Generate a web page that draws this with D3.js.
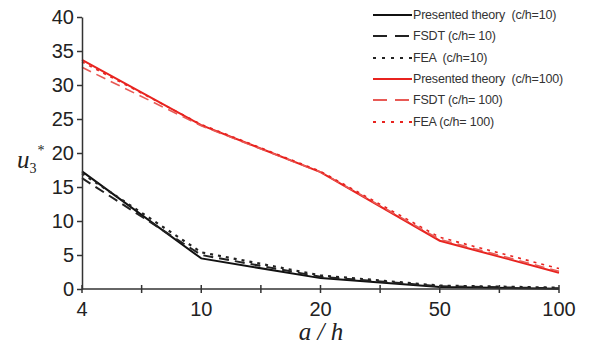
<!DOCTYPE html>
<html><head><meta charset="utf-8">
<script src="https://cdn.jsdelivr.net/npm/d3@7"></script>
<style>body{margin:0;background:#fff}svg{display:block}</style>
</head><body>
<script>
const categories = ["4","10","20","50","100"];
const yTicks = [0,5,10,15,20,25,30,35,40];
const presented10 = [17.3, 4.5, 1.6, 0.3, 0.05];
const fsdt10      = [16.3, 5.0, 1.8, 0.4, 0.1];
const fea10       = [17.0, 5.4, 2.0, 0.5, 0.2];
const presented100 = [33.7, 24.1, 17.2, 7.1, 2.4];
const fsdt100      = [32.6, 24.0, 17.2, 7.3, 2.6];
const fea100       = [33.4, 24.2, 17.3, 7.6, 3.0];
const seriesNames = ["Presented theory  (c/h=10)","FSDT (c/h= 10)","FEA  (c/h=10)","Presented theory  (c/h=100)","FSDT (c/h= 100)","FEA (c/h= 100)"];

const W=604,H=345;
const svg=d3.select("body").append("svg").attr("width",W).attr("height",H);
const x=d3.scalePoint().domain(categories).range([82,559]);
const y=d3.scaleLinear().domain([0,40]).range([289,17]);

const series=[
 {v:presented10,c:"#111",dash:null,w:2},
 {v:fsdt10,c:"#222",dash:"10,6",w:2},
 {v:fea10,c:"#222",dash:"3,5",w:2.2},
 {v:presented100,c:"#e8231f",dash:null,w:2},
 {v:fsdt100,c:"#e85a55",dash:"10,6",w:1.6},
 {v:fea100,c:"#e8231f",dash:"3,5",w:1.6}
];
const line=d3.line().x((d,i)=>x(categories[i])).y(d=>y(d));
series.forEach(s=>{
  svg.append("path").datum(s.v).attr("d",line).attr("fill","none")
   .attr("stroke",s.c).attr("stroke-width",s.w).attr("stroke-dasharray",s.dash);
});

// axes
const yAxis=d3.axisLeft(y).tickValues(yTicks).tickSize(5).tickSizeOuter(0);
const gy=svg.append("g").attr("transform","translate(82,0)").call(yAxis);
gy.selectAll("text").attr("font-family","Liberation Sans, Arial, sans-serif").attr("font-size",20).attr("fill","#222").attr("x",-8);
gy.selectAll("line,path").attr("stroke","#333").attr("stroke-width",1.5);
gy.selectAll(".tick line").attr("x1",-5).attr("x2",0);

const gx=svg.append("g").attr("transform","translate(0,289)");
gx.append("line").attr("x1",82).attr("x2",559).attr("y1",0).attr("y2",0).attr("stroke","#333").attr("stroke-width",1.5);
const halfStep=x.step()/2;
const tickPos=[];
categories.forEach((c,i)=>{tickPos.push(x(c)); if(i<categories.length-1) tickPos.push(x(c)+halfStep);});
gx.selectAll("line.t").data(tickPos).enter().append("line").attr("class","t")
  .attr("x1",d=>d).attr("x2",d=>d).attr("y1",-4).attr("y2",4).attr("stroke","#333").attr("stroke-width",1.5);
gx.selectAll("text").data(categories).enter().append("text")
  .attr("x",d=>x(d)).attr("y",27).attr("text-anchor","middle")
  .attr("font-family","Liberation Sans, Arial, sans-serif").attr("font-size",20).attr("fill","#222").text(d=>d);

// axis titles
svg.append("text").attr("x",321).attr("y",340).attr("text-anchor","middle")
  .attr("font-family","Liberation Serif, Times New Roman, serif").attr("font-style","italic").attr("font-size",25).attr("fill","#222").text("a / h");
const yl=svg.append("text").attr("x",17).attr("y",168)
  .attr("font-family","Liberation Serif, Times New Roman, serif").attr("font-size",25).attr("fill","#222");
yl.append("tspan").attr("font-style","italic").text("u");
yl.append("tspan").attr("font-size",14).attr("dy",5).text("3");
yl.append("tspan").attr("font-size",14).attr("dy",-18).attr("dx",1).text("*");

// legend
const ly=[15,36,58,79,100,122];
series.forEach((s,i)=>{
  svg.append("line").attr("x1",373).attr("x2",412).attr("y1",ly[i]).attr("y2",ly[i])
    .attr("stroke",s.c).attr("stroke-width",2).attr("stroke-dasharray",s.dash?(s.dash==="3,5"?"3,6":"14,8"):null);
  svg.append("text").attr("x",413).attr("y",ly[i]+4).attr("font-family","Liberation Sans, Arial, sans-serif")
    .attr("font-size",12.5).attr("letter-spacing",-0.2).attr("fill","#333")
    .style("white-space","pre").text(seriesNames[i]);
});
</script>
</body></html>
